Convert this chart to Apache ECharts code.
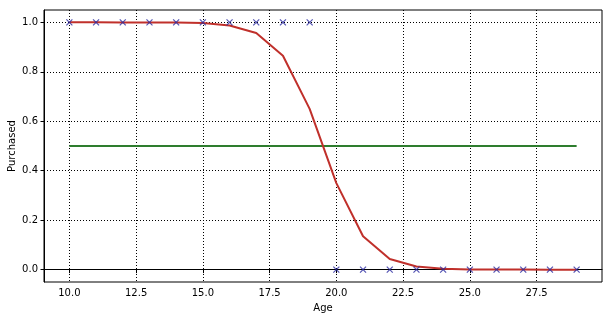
<!DOCTYPE html>
<html><head><meta charset="utf-8">
<script src="https://cdn.jsdelivr.net/npm/echarts@6/dist/echarts.min.js"></script>
<style>html,body{margin:0;padding:0;background:#fff}#c{width:612px;height:320px}</style>
</head><body><div id="c"></div>
<script>
const ages = [10,11,12,13,14,15,16,17,18,19,20,21,22,23,24,25,26,27,28,29];
const purchased = [1,1,1,1,1,1,1,1,1,1,0,0,0,0,0,0,0,0,0,0];
const predicted = [1.0,1.0,0.9999,0.9997,0.999,0.997,0.987,0.957,0.865,0.65,0.35,0.135,0.043,0.013,0.004,0.001,0.0003,0.0001,0.0,0.0];
const threshold = [0.5,0.5];
const thresholdX = [10,29];
const xTicks = [10,12.5,15,17.5,20,22.5,25,27.5];
const yTicks = [0,0.2,0.4,0.6,0.8,1.0];

const chart = echarts.init(document.getElementById('c'), null, {renderer:'canvas'});
const font = 'DejaVu Sans';
const gridLine = {show:true, lineStyle:{color:'#000', type:[1,2], width:1}};
chart.setOption({
  animation:false,
  backgroundColor:'#fff',
  grid:{left:44, right:10, top:10, bottom:38, outerBoundsMode:'none', containLabel:false, show:true, borderColor:'#000', borderWidth:1, backgroundColor:'transparent'},
  xAxis:{type:'value', min:9.05, max:29.95, name:'Age', nameLocation:'middle', nameGap:21, nameMoveOverlap:false,
    nameTextStyle:{fontFamily:font, fontSize:10, color:'#000'},
    axisLine:{show:true, lineStyle:{color:'#000', width:1}},
    axisTick:{show:true, inside:false, length:3.5, customValues:xTicks, lineStyle:{color:'#000'}},
    axisLabel:{customValues:xTicks, formatter:v=>v.toFixed(1), fontFamily:font, fontSize:10, color:'#000', margin:6},
    splitLine:gridLine},
  yAxis:{type:'value', min:-0.05, max:1.05, name:'Purchased', nameLocation:'middle', nameGap:27, nameMoveOverlap:false,
    nameTextStyle:{fontFamily:font, fontSize:10, color:'#000'},
    axisLine:{show:true, lineStyle:{color:'#000', width:1}},
    axisTick:{show:true, inside:false, length:3.5, customValues:yTicks, lineStyle:{color:'#000'}},
    axisLabel:{customValues:yTicks, formatter:v=>v.toFixed(1), fontFamily:font, fontSize:10, color:'#000', margin:6},
    splitLine:gridLine},
  series:[
    {type:'line', data:thresholdX.map((x,i)=>[x,threshold[i]]), showSymbol:false, symbol:'none',
      lineStyle:{color:'#2e7d2e', width:2}, z:2},
    {type:'line', data:ages.map((x,i)=>[x,predicted[i]]), showSymbol:false, symbol:'none',
      lineStyle:{color:'#c0302b', width:2}, z:3},
    {type:'scatter', data:ages.map((x,i)=>[x,purchased[i]]), symbol:'path://M0,0L10,10M10,0L0,10', symbolSize:6,
      itemStyle:{color:'none', borderColor:'#2a2aa0', borderWidth:1.2}, z:4}
  ]
});
</script></body></html>
